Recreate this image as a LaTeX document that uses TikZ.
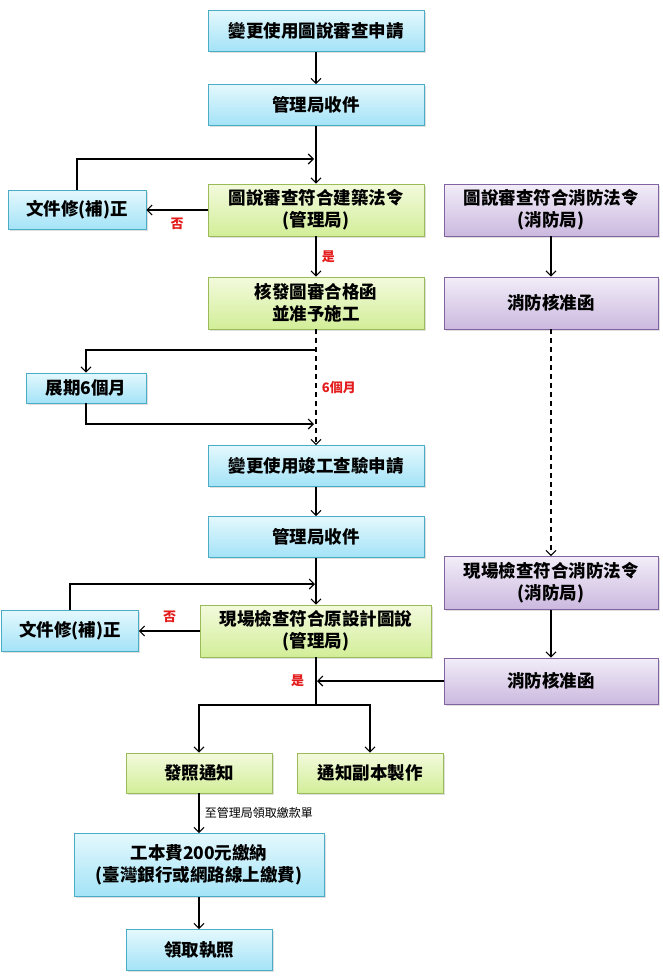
\documentclass[tikz,border=0pt]{standalone}
\usepackage{fontspec}
\setmainfont{Noto Sans CJK TC}
\usetikzlibrary{shadows, arrows.meta}

\definecolor{blueline}{HTML}{4BACC6}
\definecolor{bluetop}{HTML}{E4F8FD}
\definecolor{bluebot}{HTML}{A3E3F7}
\definecolor{greenline}{HTML}{9BBB59}
\definecolor{greentop}{HTML}{F3FADD}
\definecolor{greenbot}{HTML}{D2EE98}
\definecolor{purpleline}{HTML}{8064A2}
\definecolor{purpletop}{HTML}{F2EDF8}
\definecolor{purplebot}{HTML}{CBB9DF}
\definecolor{notered}{HTML}{E31B1B}

\tikzset{
  box/.style={line width=0.8pt, inner sep=0pt, align=center,
    font=\bfseries\fontsize{17.5}{22}\selectfont,
    drop shadow={opacity=0.25, shadow xshift=1.5pt, shadow yshift=-1.5pt}},
  bluebox/.style={box, draw=blueline, top color=bluetop, bottom color=bluebot},
  greenbox/.style={box, draw=greenline, top color=greentop, bottom color=greenbot},
  purplebox/.style={box, draw=purpleline, top color=purpletop, bottom color=purplebot},
  yesno/.style={text=notered, font=\bfseries\fontsize{13}{15}\selectfont},
  dashline/.style={dash pattern=on 5pt off 4pt}
}

\begin{document}
\begin{tikzpicture}[x=1pt, y=-1pt, >={Straight Barb[length=5pt, width=10pt]}, line width=1.1pt]
	\useasboundingbox (0,0) rectangle (663,977);
	
	% Nodes
	\node[bluebox, minimum width=216pt, minimum height=41pt] (apply1) at (316,31) {變更使用圖說審查申請};
	\node[bluebox, minimum width=216pt, minimum height=41pt] (recv1) at (316,105) {管理局收件};
	\node[greenbox, minimum width=216pt, minimum height=52pt] (check1) at (316,210) {圖說審查符合建築法令\\(管理局)};
	\node[bluebox, minimum width=138pt, minimum height=39pt] (fix1) at (77,210) {文件修(補)正};
	\node[purplebox, minimum width=214pt, minimum height=52pt] (fire1) at (551,210) {圖說審查符合消防法令\\(消防局)};
	\node[greenbox, minimum width=216pt, minimum height=52pt] (permit) at (316,303) {核發圖審合格函\\並准予施工};
	\node[purplebox, minimum width=214pt, minimum height=52pt] (fire2) at (551,303) {消防核准函};
	\node[bluebox, minimum width=120pt, minimum height=30pt] (extend) at (86,388) {展期6個月};
	\node[bluebox, minimum width=216pt, minimum height=41pt] (apply2) at (316,466) {變更使用竣工查驗申請};
	\node[bluebox, minimum width=216pt, minimum height=41pt] (recv2) at (316,537) {管理局收件};
	\node[purplebox, minimum width=214pt, minimum height=53pt] (fire3) at (551,583) {現場檢查符合消防法令\\(消防局)};
	\node[greenbox, minimum width=231pt, minimum height=52pt] (check2) at (316,631) {現場檢查符合原設計圖說\\(管理局)};
	\node[bluebox, minimum width=137pt, minimum height=41pt] (fix2) at (70,631) {文件修(補)正};
	\node[purplebox, minimum width=214pt, minimum height=46pt] (fire4) at (551,681) {消防核准函};
	\node[greenbox, minimum width=146pt, minimum height=40pt] (notice) at (199,773) {發照通知};
	\node[greenbox, minimum width=146pt, minimum height=40pt] (copy) at (370,773) {通知副本製作};
	\node[bluebox, minimum width=250pt, minimum height=63pt] (fee) at (199,865) {工本費200元繳納\\(臺灣銀行或網路線上繳費)};
	\node[bluebox, minimum width=146pt, minimum height=41pt] (license) at (199,950) {領取執照};
	
	% Joints
	\coordinate (j1) at (314,159);
	\coordinate (j2) at (314,424);
	\coordinate (j3) at (315,584);
	\coordinate (j4) at (317,681);
	\coordinate (b1) at (316,350);
	\coordinate (s1) at (316,705);
	
	% Directed edges
	\draw[->] (apply1) -- (recv1);
	\draw[->] (recv1) -- (check1);
	\draw[->] (check1) -- node[yesno, below, yshift=-4pt] {否} (fix1);
	\draw[->] (fix1.north) |- (j1);
	\draw[->] (check1) -- node[yesno, right, xshift=2pt] {是} (permit);
	\draw[->] (fire1) -- (fire2);
	\draw[->, dashline] (permit) -- node[yesno, right, xshift=2pt] {6個月} (apply2);
	\draw[->] (b1) -| (extend);
	\draw[->] (extend) |- (j2);
	\draw[->] (apply2) -- (recv2);
	\draw[->, dashline] (fire2) -- (fire3);
	\draw[->] (recv2) -- (check2);
	\draw[->] (check2) -- node[yesno, above, yshift=4pt] {否} (fix2);
	\draw[->] (fix2.north) |- (j3);
	\draw[->] (fire3) -- (fire4);
	\draw[->] (fire4) -- (j4);
	\draw (check2) -- node[yesno, left, xshift=-8pt] {是} (s1);
	\draw[->] (s1) -| (notice);
	\draw[->] (s1) -| (copy);
	\draw[->] (notice) -- node[right, xshift=2pt, font=\fontsize{12}{14}\selectfont] {至管理局領取繳款單} (fee);
	\draw[->] (fee) -- (license);
\end{tikzpicture}
\end{document}
